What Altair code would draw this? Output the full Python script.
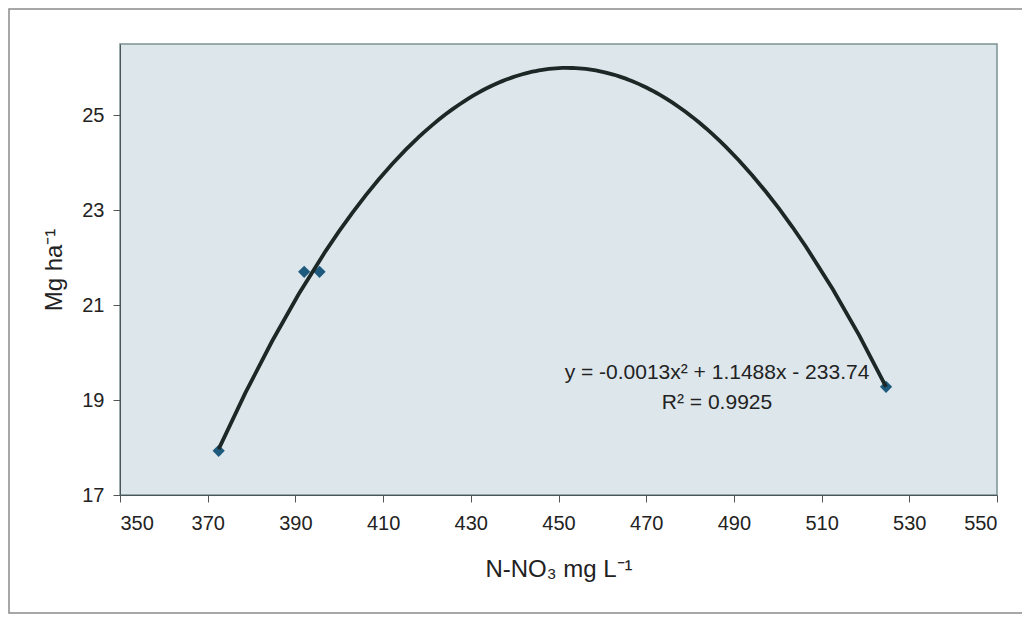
import altair as alt
import pandas as pd

# Observed data points (N-NO3 mg/L vs Mg/ha)
x_vals = [372.5, 392.0, 395.5, 524.7]
y_vals = [17.93, 21.70, 21.70, 19.28]

x_ticks = [350, 370, 390, 410, 430, 450, 470, 490, 510, 530, 550]
y_ticks = [17, 19, 21, 23, 25]

eq_lines = ["y = -0.0013x² + 1.1488x - 233.74", "R² = 0.9925"]

df = pd.DataFrame({"x": x_vals, "y": y_vals})

W, H = 877, 451

xs = alt.Scale(domain=[350, 550], nice=False, zero=False)
ys = alt.Scale(domain=[17, 26.5], nice=False, zero=False)

base = alt.Chart(df)

xaxis = alt.Axis(values=x_ticks, title="N-NO₃ mg L⁻¹", grid=False, labelFontSize=20,
                 titleFontSize=24, titleFontWeight="normal", labelPadding=11, titlePadding=24,
                 tickSize=7, labelColor="#222", titleColor="#222",
                 domainColor="#4a5555", tickColor="#555", labelFont="Liberation Sans",
                 titleFont="Liberation Sans")
yaxis = alt.Axis(values=y_ticks, title="Mg ha⁻¹", grid=False, labelFontSize=20,
                 titleFontSize=24, titleFontWeight="normal", labelPadding=9, titlePadding=15,
                 tickSize=7, labelColor="#222", titleColor="#222",
                 domainColor="#4a5555", tickColor="#555", labelFont="Liberation Sans",
                 titleFont="Liberation Sans")

points = base.mark_point(shape="diamond", filled=True, size=150, color="#1e5a7e", opacity=1).encode(
    x=alt.X("x:Q", scale=xs, axis=xaxis),
    y=alt.Y("y:Q", scale=ys, axis=yaxis),
)

curve = base.transform_regression(
    "x", "y", method="poly", order=2, extent=[372.5, 524.7]
).mark_line(color="#1b2826", strokeWidth=3.8).encode(
    x=alt.X("x:Q", scale=xs),
    y=alt.Y("y:Q", scale=ys),
)

eq_df = pd.DataFrame({"t": [eq_lines[0]]})
r2_df = pd.DataFrame({"t": [eq_lines[1]]})
eq_text = alt.Chart(eq_df).mark_text(fontSize=21, font="Liberation Sans", color="#222",
                                     align="center", baseline="middle").encode(
    x=alt.value(597), y=alt.value(329), text="t:N")
r2_text = alt.Chart(r2_df).mark_text(fontSize=21, font="Liberation Sans", color="#222",
                                     align="center", baseline="middle").encode(
    x=alt.value(597), y=alt.value(359), text="t:N")

frame_df = pd.DataFrame({"a": [0]})
frame = alt.Chart(frame_df).mark_rect(fill=None, stroke="#8a8a8a", strokeWidth=1.5).encode(
    x=alt.value(-111), x2=alt.value(W + 60), y=alt.value(-35), y2=alt.value(H + 118))

chart = alt.layer(frame, points, curve, eq_text, r2_text).properties(
    width=W, height=H,
    autosize=alt.AutoSizeParams(type="none"),
    padding={"left": 112, "top": 36, "right": 25, "bottom": 121},
).configure(
    background="white",
    view=alt.ViewConfig(fill="#dde6eb", stroke="#7c9292", strokeWidth=1.5),
)

chart.save("out.html", embed_options={"renderer": "svg", "actions": False})
